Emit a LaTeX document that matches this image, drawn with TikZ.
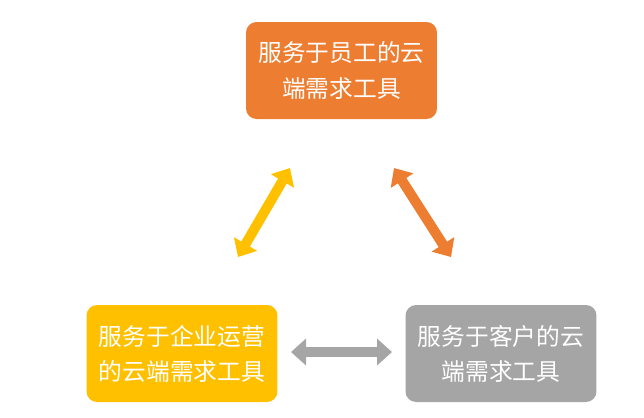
\documentclass[tikz,border=0pt]{standalone}
\usepackage{fontspec}
\setmainfont{Noto Sans CJK SC}
\usetikzlibrary{arrows.meta}
\definecolor{tooloran}{HTML}{ED7D31}
\definecolor{toolyell}{HTML}{FFC000}
\definecolor{toolgray}{HTML}{A5A5A5}

\begin{document}
\begin{tikzpicture}[
    x=0.02cm, y=-0.02cm,
    tool/.style={rectangle, rounded corners=6pt, minimum width=3.82cm, minimum height=1.94cm,
        text=white, align=center, font=\fontsize{13.5}{20}\selectfont},
    link/.style={line width=0.2cm, {Triangle[length=0.3cm,width=0.52cm]}-{Triangle[length=0.3cm,width=0.52cm]}}
]
\useasboundingbox (0,0) rectangle (644,417);

% === Three tools ===
\node[tool, fill=tooloran] (staff) at (341.5,70.5) {服务于员工的云\\端需求工具};
\node[tool, fill=toolyell] (ops) at (182,353.5) {服务于企业运营\\的云端需求工具};
\node[tool, fill=toolgray] (cust) at (501,353.5) {服务于客户的云\\端需求工具};

% Arrow ends
\coordinate (y1) at (238,257);
\coordinate (y2) at (290,168);
\coordinate (o1) at (394,168);
\coordinate (o2) at (451,257);
\coordinate (g1) at (291,352);
\coordinate (g2) at (392,352);

\draw[link, draw=toolyell] (y1) -- (y2);
\draw[link, draw=tooloran] (o1) -- (o2);
\draw[link, draw=toolgray] (g1) -- (g2);
\end{tikzpicture}
\end{document}
